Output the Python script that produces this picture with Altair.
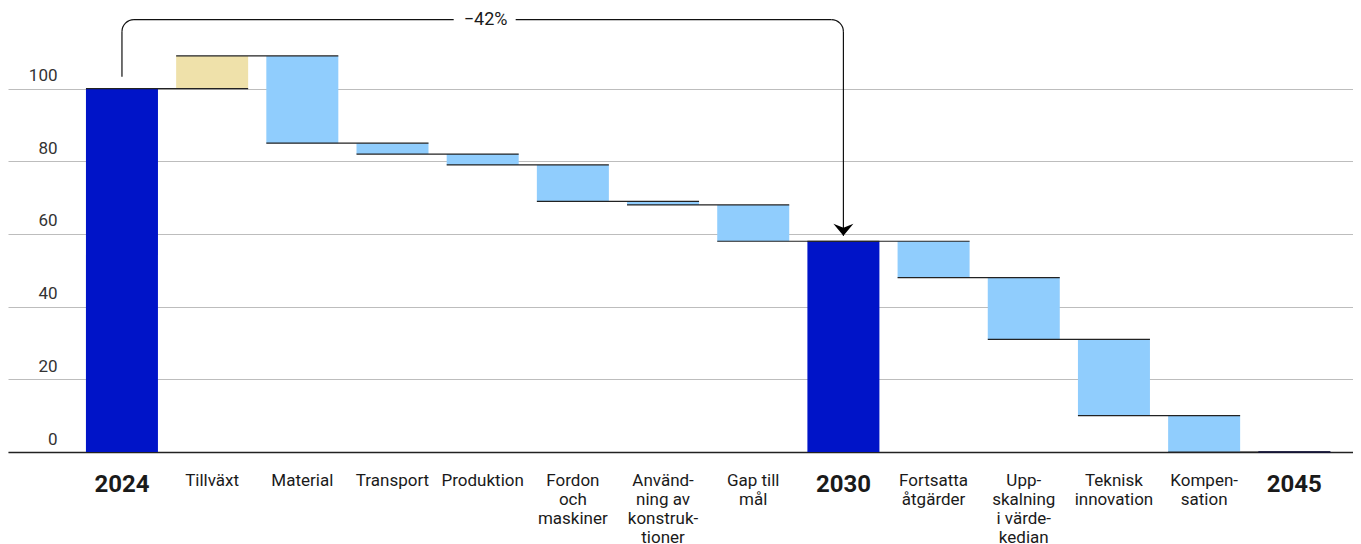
import math
import altair as alt
import pandas as pd

# ---- data ----
categories = ["2024", "Tillväxt", "Material", "Transport", "Produktion",
              "Fordon|och|maskiner", "Använd-|ning av|konstruk-|tioner",
              "Gap till|mål", "2030", "Fortsatta|åtgärder",
              "Upp-|skalning|i värde-|kedian", "Teknisk|innovation",
              "Kompen-|sation", "2045"]
kinds = ["total", "increase", "decrease", "decrease", "decrease", "decrease",
         "decrease", "decrease", "total", "decrease", "decrease", "decrease",
         "decrease", "total"]
# change per step (totals give the absolute level)
values = [100, 9, -24, -3, -3, -10, -1, -10, 58, -10, -17, -21, -10, 0]
y_ticks = [0, 20, 40, 60, 80, 100]
change_label = "\u221242%"
bracket_top = 119.0
bracket_left_bottom = 103.3
bracket_arrow_tip = 59.5

# ---- waterfall table ----
starts, ends = [], []
level = 0
for k, v in zip(kinds, values):
    if k == "total":
        starts.append(0)
        ends.append(v)
        level = v
    else:
        starts.append(level)
        level = level + v
        ends.append(level)

bars = pd.DataFrame({"cat": categories, "kind": kinds, "start": starts, "end": ends})
conn = pd.DataFrame({"cat": categories[:-1], "next": categories[1:], "level": ends[:-1]})

W, H = 1345, 444
FONT = "Roboto"
xscale = alt.Scale(domain=categories, paddingInner=0.2015, paddingOuter=0.558,
                   align=0.7746, round=False)
yscale = alt.Scale(domain=[0, 122.2], nice=False, zero=False)

years_test = "indexof(['2024','2030','2045'], datum.value) >= 0"

x_axis = alt.Axis(title=None, labelExpr="split(datum.value, '|')",
                  labelAngle=0, ticks=False, domain=True, domainColor="#222",
                  domainWidth=1.5, labelPadding=20, labelBaseline="top",
                  labelFont=FONT, labelColor="#1a1a1a", labelLineHeight=19,
                  labelFontSize={"condition": {"test": years_test, "value": 24}, "value": 17},
                  labelFontWeight={"condition": {"test": years_test, "value": "bold"}, "value": "normal"},
                  grid=False)
y_axis = alt.Axis(title=None, values=y_ticks, grid=True, gridColor="#bdbdbd",
                  gridWidth=1, domain=False, ticks=False, labelAlign="right",
                  labelPadding=-49, labelBaseline="alphabetic", labelOffset=-8,
                  labelFont=FONT, labelFontSize=17, labelColor="#333")

base_bars = alt.Chart(bars).mark_bar().encode(
    x=alt.X("cat:N", scale=xscale, axis=x_axis, sort=categories),
    y=alt.Y("start:Q", scale=yscale, axis=y_axis),
    y2="end:Q",
    color=alt.Color("kind:N", legend=None,
                    scale=alt.Scale(domain=["total", "increase", "decrease"],
                                    range=["#0014c8", "#efe1aa", "#90cdfd"])),
)

zero_total = alt.Chart(bars).transform_filter("datum.end == 0 && datum.kind == 'total'").mark_bar(
    stroke="#000050", strokeWidth=1.5, fill="#0014c8").encode(
    x=alt.X("cat:N", scale=xscale), y=alt.Y("start:Q", scale=yscale), y2="end:Q")

connectors = alt.Chart(conn).mark_rule(color="#222", strokeWidth=1.2).encode(
    x=alt.X("cat:N", scale=xscale, bandPosition=0),
    x2=alt.X2("next:N", bandPosition=1),
    y=alt.Y("level:Q", scale=yscale),
)

R = 12
br = pd.DataFrame({"a": [categories[0]], "b": [categories[4]], "c": [categories[8]],
                   "top": [bracket_top], "lb": [bracket_left_bottom],
                   "tip": [bracket_arrow_tip], "txt": [change_label]})
bk = alt.Chart(br)
rule_kw = dict(color="#111", strokeWidth=1.2)
left_v = bk.mark_rule(y2Offset=R, **rule_kw).encode(
    x=alt.X("a:N", scale=xscale), y=alt.Y("lb:Q", scale=yscale), y2="top:Q")
right_v = bk.mark_rule(yOffset=R, **rule_kw).encode(
    x=alt.X("c:N", scale=xscale), y=alt.Y("top:Q", scale=yscale), y2="tip:Q")
h_left = bk.mark_rule(xOffset=R, x2Offset=-29, **rule_kw).encode(
    x=alt.X("a:N", scale=xscale), x2="b:N", y=alt.Y("top:Q", scale=yscale))
h_right = bk.mark_rule(xOffset=33, x2Offset=-R, **rule_kw).encode(
    x=alt.X("b:N", scale=xscale), x2="c:N", y=alt.Y("top:Q", scale=yscale))
arc_l = bk.mark_arc(radius=R + 0.6, radius2=R - 0.6, theta=1.5 * math.pi, theta2=2 * math.pi,
                    xOffset=R, yOffset=R, fill="#111").encode(
    x=alt.X("a:N", scale=xscale), y=alt.Y("top:Q", scale=yscale))
arc_r = bk.mark_arc(radius=R + 0.6, radius2=R - 0.6, theta=0, theta2=0.5 * math.pi,
                    xOffset=-R, yOffset=R, fill="#111").encode(
    x=alt.X("c:N", scale=xscale), y=alt.Y("top:Q", scale=yscale))
arrow = bk.mark_point(shape="M-1,-1.2L0,0L1,-1.2L0,-0.8Z", size=400, filled=True,
                      color="#000", opacity=1, strokeWidth=0).encode(
    x=alt.X("c:N", scale=xscale), y=alt.Y("tip:Q", scale=yscale))
label = bk.mark_text(font=FONT, fontSize=18, color="#1a1a1a", baseline="middle",
                     align="center", dx=3).encode(
    x=alt.X("b:N", scale=xscale), y=alt.Y("top:Q", scale=yscale), text="txt:N")

chart = alt.layer(base_bars, zero_total, connectors, left_v, right_v, h_left, h_right,
                  arc_l, arc_r, arrow, label).properties(
    width=W, height=H, padding=0
).configure_view(stroke=None)

chart.save("out.html", embed_options={"renderer": "svg", "actions": False})
